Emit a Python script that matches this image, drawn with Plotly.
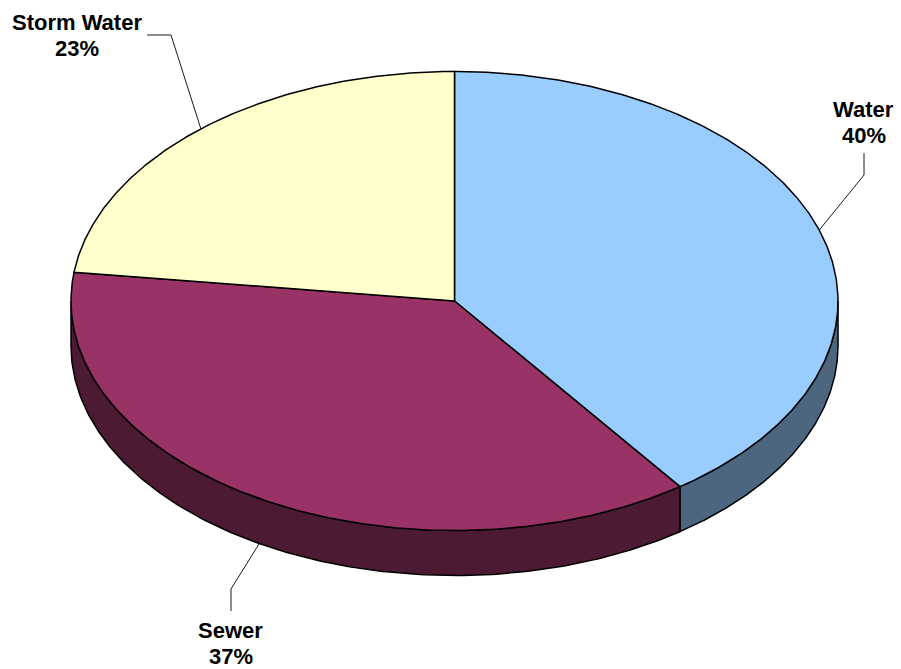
import numpy as np
import plotly.graph_objects as go

# ---- data ----
categories = ["Water", "Sewer", "Storm Water"]
values = [40, 37, 23]

# ---- styling ----
top_colors = ["#99CCFF", "#993366", "#FFFFCC"]
side_colors = ["#4D6680", "#4D1A33", "#80806A"]

W, H = 901, 669
CX, CY = 454.5, 301.0      # pie centre on the page
RX, RY = 383.5, 229.5      # tilted top-face radii
DEPTH = 45.0               # thickness of the disc
LABEL_FONT = dict(family="Liberation Sans, Arial, sans-serif", size=22, color="#000000")
LINE_GAP = 26              # distance between the two label lines

# label placement: centre of first text line, end of leader, elbow of leader
label_layout = {
    "Water":       {"text": (863.5, 109), "end": (864, 153), "elbow": (864, 175)},
    "Sewer":       {"text": (230.5, 630), "end": (231, 611), "elbow": (231, 589)},
    "Storm Water": {"text": (76.5, 22),   "end": (147, 35),  "elbow": (171, 35)},
}


def pt(theta_deg, drop=0.0):
    """Point on the rim; angle clockwise from 12 o'clock."""
    t = np.radians(theta_deg)
    return CX + RX * np.sin(t), CY - RY * np.cos(t) + drop


total = float(sum(values))
bounds = []
start = 0.0
for v in values:
    sweep = 360.0 * v / total
    bounds.append((start, start + sweep))
    start += sweep

fig = go.Figure()
outline = dict(color="#000000", width=1.5)

# side walls (only the front half of the rim is visible)
for (a0, a1), col in zip(bounds, side_colors):
    lo, hi = max(a0, 90.0), min(a1, 270.0)
    if hi <= lo:
        continue
    th = np.linspace(lo, hi, 200)
    xt, yt = pt(th)
    xb, yb = pt(th[::-1], DEPTH)
    xs = np.concatenate([xt, xb, xt[:1]])
    ys = np.concatenate([yt, yb, yt[:1]])
    fig.add_trace(go.Scatter(x=xs, y=ys, mode="lines", fill="toself",
                             fillcolor=col, line=outline, hoverinfo="skip",
                             showlegend=False))

# top faces
for (a0, a1), col, name in zip(bounds, top_colors, categories):
    th = np.linspace(a0, a1, 300)
    xa, ya = pt(th)
    xs = np.concatenate([[CX], xa, [CX]])
    ys = np.concatenate([[CY], ya, [CY]])
    fig.add_trace(go.Scatter(x=xs, y=ys, mode="lines", fill="toself",
                             fillcolor=col, line=outline, name=name,
                             hoverinfo="name", showlegend=False))

# leader lines and labels
for (a0, a1), name, v in zip(bounds, categories, values):
    mid = (a0 + a1) / 2.0
    front = 90.0 < mid < 270.0
    ax, ay = pt(mid, DEPTH if front else 0.0)
    lay = label_layout[name]
    ex, ey = lay["elbow"]
    nx, ny = lay["end"]
    fig.add_trace(go.Scatter(x=[float(ax), ex, nx], y=[float(ay), ey, ny],
                             mode="lines", line=dict(color="#000000", width=0.9),
                             hoverinfo="skip", showlegend=False))
    pct = round(100.0 * v / total)
    tx, ty = lay["text"]
    for k, line in enumerate([name, f"{pct}%"]):
        fig.add_annotation(x=tx, y=ty + k * LINE_GAP, xref="x", yref="y",
                           showarrow=False, text=f"<b>{line}</b>",
                           xanchor="center", yanchor="middle", font=LABEL_FONT)

fig.update_xaxes(range=[0, W], visible=False, fixedrange=True)
fig.update_yaxes(range=[H, 0], visible=False, fixedrange=True)
fig.update_layout(width=W, height=H, margin=dict(l=0, r=0, t=0, b=0),
                  paper_bgcolor="#FFFFFF", plot_bgcolor="#FFFFFF")

fig.write_html("out.html")
